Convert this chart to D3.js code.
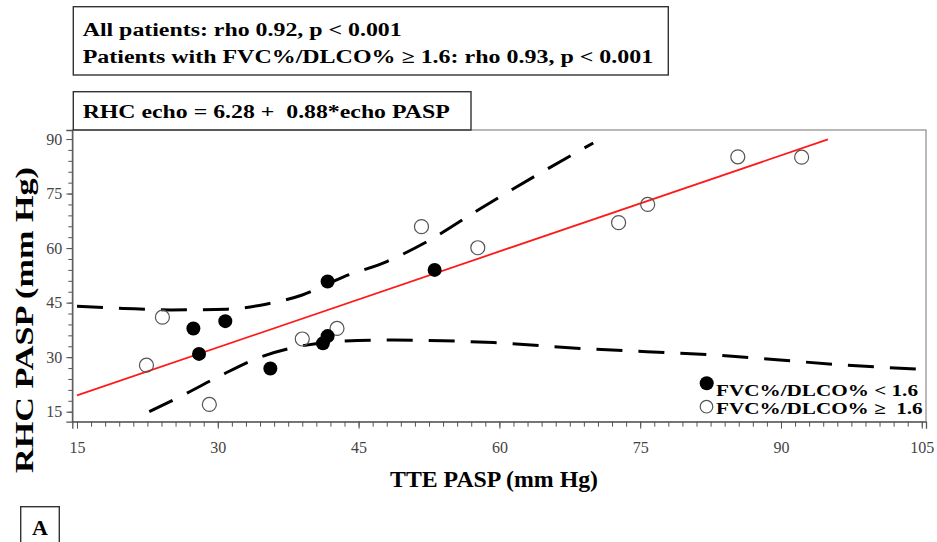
<!DOCTYPE html>
<html>
<head>
<meta charset="utf-8">
<script src="https://cdn.jsdelivr.net/npm/d3@7"></script>
<style>
  body { margin: 0; background: #fff; }
  text { white-space: pre; }
</style>
</head>
<body>
<svg id="chart" width="937" height="542"></svg>
<script>
// FVC%/DLCO% < 1.6  (filled)  [TTE PASP, RHC PASP]
const lowRatio = [
    [27.4, 37.9], [28.0, 30.9], [30.8, 39.9], [35.6, 26.9],
    [41.7, 50.8], [41.2, 33.8], [41.7, 35.8], [53.1, 54.0]
]
// FVC%/DLCO% >= 1.6  (open)
const highRatio = [
    [24.1, 41.0], [22.4, 27.8], [29.1, 17.0], [39.0, 35.0],
    [42.7, 37.9], [51.7, 65.9], [57.7, 60.1], [72.7, 67.0],
    [75.8, 72.0], [85.4, 85.1], [92.2, 85.0]
]
// regression: RHC = 6.28 + 0.88 * TTE
const intercept = 6.28
const slope = 0.88
const fitRange = [15, 95]

// dashed band curves
const upperBand = [
    [15, 44.0], [20, 43.4], [25, 43.0], [31, 43.2], [35, 44.5], [39, 47.1],
    [43.4, 52.1], [48, 56.3], [52.3, 61.8], [58, 70.9], [64, 80.1], [70, 88.9]
]
const lowerBand = [
    [22.7, 15.0], [26.7, 20.1], [30.2, 24.8], [34.5, 30.0], [38, 32.6], [43.4, 34.4],
    [48.7, 34.7], [54, 34.5], [59.4, 34.0], [68.6, 32.4], [75.7, 31.5], [82.8, 30.6],
    [89.9, 29.2], [97, 27.8], [104.8, 26.7]
]

const xTicks = [15, 30, 45, 60, 75, 90, 105]
const yTicks = [15, 30, 45, 60, 75, 90]
const statLines = [
    "All patients: rho 0.92, p < 0.001",
    "Patients with FVC%/DLCO% \u2265 1.6: rho 0.93, p < 0.001"
]
const equation = "RHC echo = 6.28 +  0.88*echo PASP"
const legendLabels = ["FVC%/DLCO% < 1.6", "FVC%/DLCO% \u2265  1.6"]

const serif = '"Liberation Serif", "Times New Roman", serif'
const svg = d3.select('#chart').attr('font-family', serif)
const plotL = 72.3, plotT = 130, innerW = 853.7, innerH = 291.7

const x = d3.scaleLinear().domain([14.5, 105.45]).range([plotL, plotL + innerW])
const y = d3.scaleLinear().domain([12.25, 92.48]).range([plotT + innerH, plotT])

// frame
svg.append('rect')
    .attr('x', plotL).attr('y', plotT)
    .attr('width', innerW).attr('height', innerH)
    .attr('fill', 'none').attr('stroke', '#8a8a8a').attr('stroke-width', 1.2)

// axes
const xMinor = d3.range(15, 105.1, 1.5)
const yMinor = d3.range(15, 90.1, 3)

let gx = svg.append('g').attr('transform', `translate(0,${plotT + innerH})`)
gx.call(d3.axisBottom(x).tickValues(xMinor).tickSize(5).tickFormat(''))
gx.call(g => g.select('.domain').remove())
let gx2 = svg.append('g').attr('transform', `translate(0,${plotT + innerH})`)
gx2.call(d3.axisBottom(x).tickValues(xTicks).tickSize(7).tickPadding(13))
gx2.select('.domain').attr('stroke', '#555').attr('stroke-width', 1.3)

let gy = svg.append('g').attr('transform', `translate(${plotL},0)`)
gy.call(d3.axisLeft(y).tickValues(yMinor).tickSize(4).tickFormat(''))
gy.call(g => g.select('.domain').remove())
let gy2 = svg.append('g').attr('transform', `translate(${plotL},0)`)
gy2.call(d3.axisLeft(y).tickValues(yTicks).tickSize(6).tickPadding(4))
gy2.select('.domain').attr('stroke', '#555').attr('stroke-width', 1.3)

svg.selectAll('g').attr('font-family', serif)
svg.selectAll('.tick line').attr('stroke', '#555')
svg.selectAll('.tick text')
    .attr('fill', '#444')
    .style('font-size', '16px')

// axis titles
svg.append('text')
    .attr('x', 390).attr('y', 486.7)
    .attr('textLength', 208).attr('lengthAdjust', 'spacingAndGlyphs')
    .style('font-size', '22.7px').style('font-weight', 'bold')
    .text('TTE PASP (mm Hg)')

svg.append('text')
    .attr('transform', 'translate(33.3,473) rotate(-90) scale(1,0.8)')
    .attr('textLength', 306).attr('lengthAdjust', 'spacingAndGlyphs')
    .style('font-size', '31px').style('font-weight', 'bold')
    .text('RHC PASP (mm Hg)')

// bands
const line = d3.line().x(d => x(d[0])).y(d => y(d[1])).curve(d3.curveMonotoneX)
svg.selectAll('.band').data([upperBand, lowerBand]).join('path')
    .attr('class', 'band')
    .attr('d', line)
    .attr('fill', 'none')
    .attr('stroke', '#000')
    .attr('stroke-width', 3)
    .attr('stroke-dasharray', '26,16')

// fitted line
svg.append('line')
    .attr('x1', x(fitRange[0])).attr('y1', y(intercept + slope * fitRange[0]))
    .attr('x2', x(fitRange[1])).attr('y2', y(intercept + slope * fitRange[1]))
    .attr('stroke', '#ff1a1a').attr('stroke-width', 1.8)

// points
svg.selectAll('.open').data(highRatio).join('circle')
    .attr('class', 'open')
    .attr('cx', d => x(d[0])).attr('cy', d => y(d[1])).attr('r', 7)
    .attr('fill', 'none').attr('stroke', '#555').attr('stroke-width', 1.2)

svg.selectAll('.filled').data(lowRatio).join('circle')
    .attr('class', 'filled')
    .attr('cx', d => x(d[0])).attr('cy', d => y(d[1])).attr('r', 7)
    .attr('fill', '#000')

// legend
let legend = svg.append('g').attr('class', 'legend')
legend.append('circle').attr('cx', 706.7).attr('cy', 383.3).attr('r', 7).attr('fill', '#000')
legend.append('circle').attr('cx', 706.5).attr('cy', 406.7).attr('r', 6.3)
    .attr('fill', 'none').attr('stroke', '#555').attr('stroke-width', 1.2)
legend.selectAll('.legend_text').data(legendLabels).join('text')
    .attr('class', 'legend_text')
    .attr('x', 716)
    .attr('y', (d, i) => i === 0 ? 395.5 : 413.5)
    .attr('textLength', (d, i) => i === 0 ? 202 : 206.7)
    .attr('lengthAdjust', 'spacingAndGlyphs')
    .style('font-size', '16.5px').style('font-weight', 'bold')
    .text(d => d)

// stats box
svg.append('rect')
    .attr('x', 73.3).attr('y', 6.7).attr('width', 595).attr('height', 68.3)
    .attr('fill', 'none').attr('stroke', '#333').attr('stroke-width', 1.4)
svg.selectAll('.stat').data(statLines).join('text')
    .attr('class', 'stat')
    .attr('x', 82.7)
    .attr('y', (d, i) => i === 0 ? 35.7 : 63.3)
    .attr('textLength', (d, i) => i === 0 ? 319 : 570.6)
    .attr('lengthAdjust', 'spacingAndGlyphs')
    .style('font-size', '18.5px').style('font-weight', 'bold')
    .text(d => d)

// equation box
svg.append('rect')
    .attr('x', 73.3).attr('y', 91.7).attr('width', 397.7).attr('height', 38.3)
    .attr('fill', 'none').attr('stroke', '#333').attr('stroke-width', 1.4)
svg.append('text')
    .attr('x', 82.7).attr('y', 118.3)
    .attr('textLength', 367).attr('lengthAdjust', 'spacingAndGlyphs')
    .style('font-size', '18.5px').style('font-weight', 'bold')
    .text(equation)

// panel letter
svg.append('rect')
    .attr('x', 20.7).attr('y', 506.7).attr('width', 38.6).attr('height', 50)
    .attr('fill', 'none').attr('stroke', '#333').attr('stroke-width', 1.4)
svg.append('text')
    .attr('x', 40).attr('y', 535).attr('text-anchor', 'middle')
    .style('font-size', '22px').style('font-weight', 'bold')
    .text('A')

// make sure every text uses the serif face
svg.selectAll('text').style('font-family', serif)
</script>
</body>
</html>
